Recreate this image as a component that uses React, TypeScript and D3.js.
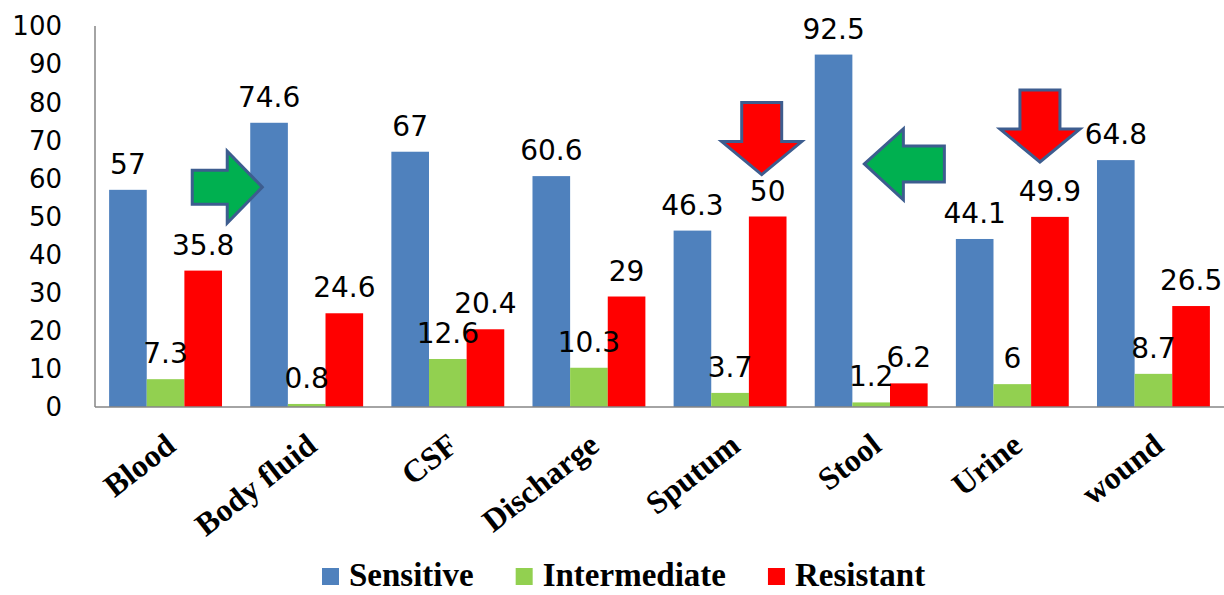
import { useEffect, useRef } from 'react';
import * as d3 from 'd3';

const categories = ['Blood', 'Body fluid', 'CSF', 'Discharge', 'Sputum', 'Stool', 'Urine', 'wound'];
const seriesNames = ['Sensitive', 'Intermediate', 'Resistant'];
const sensitive = [57, 74.6, 67, 60.6, 46.3, 92.5, 44.1, 64.8];
const intermediate = [7.3, 0.8, 12.6, 10.3, 3.7, 1.2, 6, 8.7];
const resistant = [35.8, 24.6, 20.4, 29, 50, 6.2, 49.9, 26.5];
const colors = ['#4f81bd', '#92d050', '#ff0000'];
const yTicks = [0, 10, 20, 30, 40, 50, 60, 70, 80, 90, 100];

// callout arrows: category, bar they point at, direction, value at the tip
const arrows = [
  { cat: 'Body fluid', dir: 'right', series: 0, value: 57.7, fill: '#00b050' },
  { cat: 'Sputum', dir: 'down', series: 2, value: 61, fill: '#ff0000' },
  { cat: 'Stool', dir: 'left', series: 0, value: 63.8, fill: '#00b050' },
  { cat: 'Urine', dir: 'down', series: 2, value: 64.3, fill: '#ff0000' },
];

export default function App() {
  const ref = useRef<SVGSVGElement>(null);

  useEffect(() => {
    document.body.style.margin = '0';
    const svg = d3.select(ref.current);
    svg.selectAll('*').remove();

    const left = 95;
    const right = 1224;
    const top = 26;
    const bottom = 407;

    const x = d3.scaleBand().domain(categories).range([left, right]).paddingInner(0.2).paddingOuter(0.1);
    const x1 = d3.scaleBand().domain(seriesNames).range([0, x.bandwidth()]);
    const y = d3.scaleLinear().domain([0, 100]).range([bottom, top]);

    const valueFont = '"DejaVu Sans", Verdana, sans-serif';
    const serif = '"Liberation Serif", "Times New Roman", serif';

    // y tick labels
    svg.append('g')
      .selectAll('text')
      .data(yTicks)
      .join('text')
      .attr('x', 62)
      .attr('y', d => y(d))
      .attr('dy', '0.36em')
      .attr('text-anchor', 'end')
      .attr('font-family', valueFont)
      .attr('font-size', 26)
      .attr('fill', '#000')
      .text(d => d);

    const seriesData = [sensitive, intermediate, resistant];

    // bars
    const groups = svg.append('g')
      .selectAll('g')
      .data(categories)
      .join('g')
      .attr('transform', d => `translate(${x(d)},0)`);

    groups.selectAll('rect')
      .data((d, i) => seriesNames.map((s, j) => ({ s, j, v: seriesData[j][i] })))
      .join('rect')
      .attr('x', d => x1(d.s)!)
      .attr('y', d => y(d.v))
      .attr('width', x1.bandwidth())
      .attr('height', d => y(0) - y(d.v))
      .attr('fill', d => colors[d.j]);

    // axis lines
    svg.append('line')
      .attr('x1', left).attr('x2', left)
      .attr('y1', top).attr('y2', bottom)
      .attr('stroke', '#868686').attr('stroke-width', 1.5);
    svg.append('line')
      .attr('x1', left).attr('x2', right)
      .attr('y1', bottom).attr('y2', bottom)
      .attr('stroke', '#868686').attr('stroke-width', 1.5);

    // value labels
    groups.selectAll('text.val')
      .data((d, i) => seriesNames.map((s, j) => ({ s, j, v: seriesData[j][i] })))
      .join('text')
      .attr('class', 'val')
      .attr('x', d => x1(d.s)! + x1.bandwidth() / 2)
      .attr('y', d => y(d.v) - 16)
      .attr('text-anchor', 'middle')
      .attr('font-family', valueFont)
      .attr('font-size', 28)
      .attr('fill', '#000')
      .text(d => d.v);

    // category labels
    svg.append('g')
      .selectAll('text')
      .data(categories)
      .join('text')
      .attr('transform', d => `translate(${x(d)! + x.bandwidth() / 2 + 12},${bottom + 42}) rotate(-38)`)
      .attr('text-anchor', 'end')
      .attr('font-family', serif)
      .attr('font-weight', 'bold')
      .attr('font-size', 32)
      .attr('fill', '#000')
      .text(d => d);

    // callout arrows
    arrows.forEach(a => {
      const bx = x(a.cat)! + x1(seriesNames[a.series])!;
      const bw = x1.bandwidth();
      const ty = y(a.value);
      let pts: [number, number][];
      if (a.dir === 'right') {
        const tx = bx + 12;
        pts = [[tx, ty], [tx - 35, ty - 36], [tx - 35, ty - 17], [tx - 70, ty - 17],
          [tx - 70, ty + 17], [tx - 35, ty + 17], [tx - 35, ty + 36]];
      } else if (a.dir === 'left') {
        const tx = bx + bw + 12;
        pts = [[tx, ty], [tx + 39, ty - 35], [tx + 39, ty - 18], [tx + 80, ty - 18],
          [tx + 80, ty + 18], [tx + 39, ty + 18], [tx + 39, ty + 36]];
      } else {
        const tx = bx + bw / 2 - (a.cat === 'Sputum' ? 6 : 10);
        pts = [[tx, ty], [tx - 40, ty - 33], [tx - 20, ty - 33], [tx - 20, ty - 72],
          [tx + 20, ty - 72], [tx + 20, ty - 33], [tx + 40, ty - 33]];
      }
      svg.append('polygon')
        .attr('points', pts.map(p => p.join(',')).join(' '))
        .attr('fill', a.fill)
        .attr('stroke', '#3d5d8f')
        .attr('stroke-width', 3)
        .attr('stroke-linejoin', 'miter');
    });

    // legend
    const legend = svg.append('g').attr('transform', 'translate(322,586)');
    let lx = 0;
    seriesNames.forEach((name, i) => {
      legend.append('rect')
        .attr('x', lx).attr('y', -18)
        .attr('width', 17).attr('height', 17)
        .attr('fill', colors[i]);
      const t = legend.append('text')
        .attr('x', lx + 27)
        .attr('y', 0)
        .attr('font-family', serif)
        .attr('font-weight', 'bold')
        .attr('font-size', 33)
        .attr('fill', '#000')
        .text(name);
      const w = (t.node() as SVGTextElement).getComputedTextLength();
      lx += 27 + w + 42;
    });
  }, []);

  return (
    <svg
      ref={ref}
      width={1224}
      height={595}
      style={{ display: 'block', position: 'absolute', left: 0, top: 0, background: '#fff' }}
    />
  );
}
